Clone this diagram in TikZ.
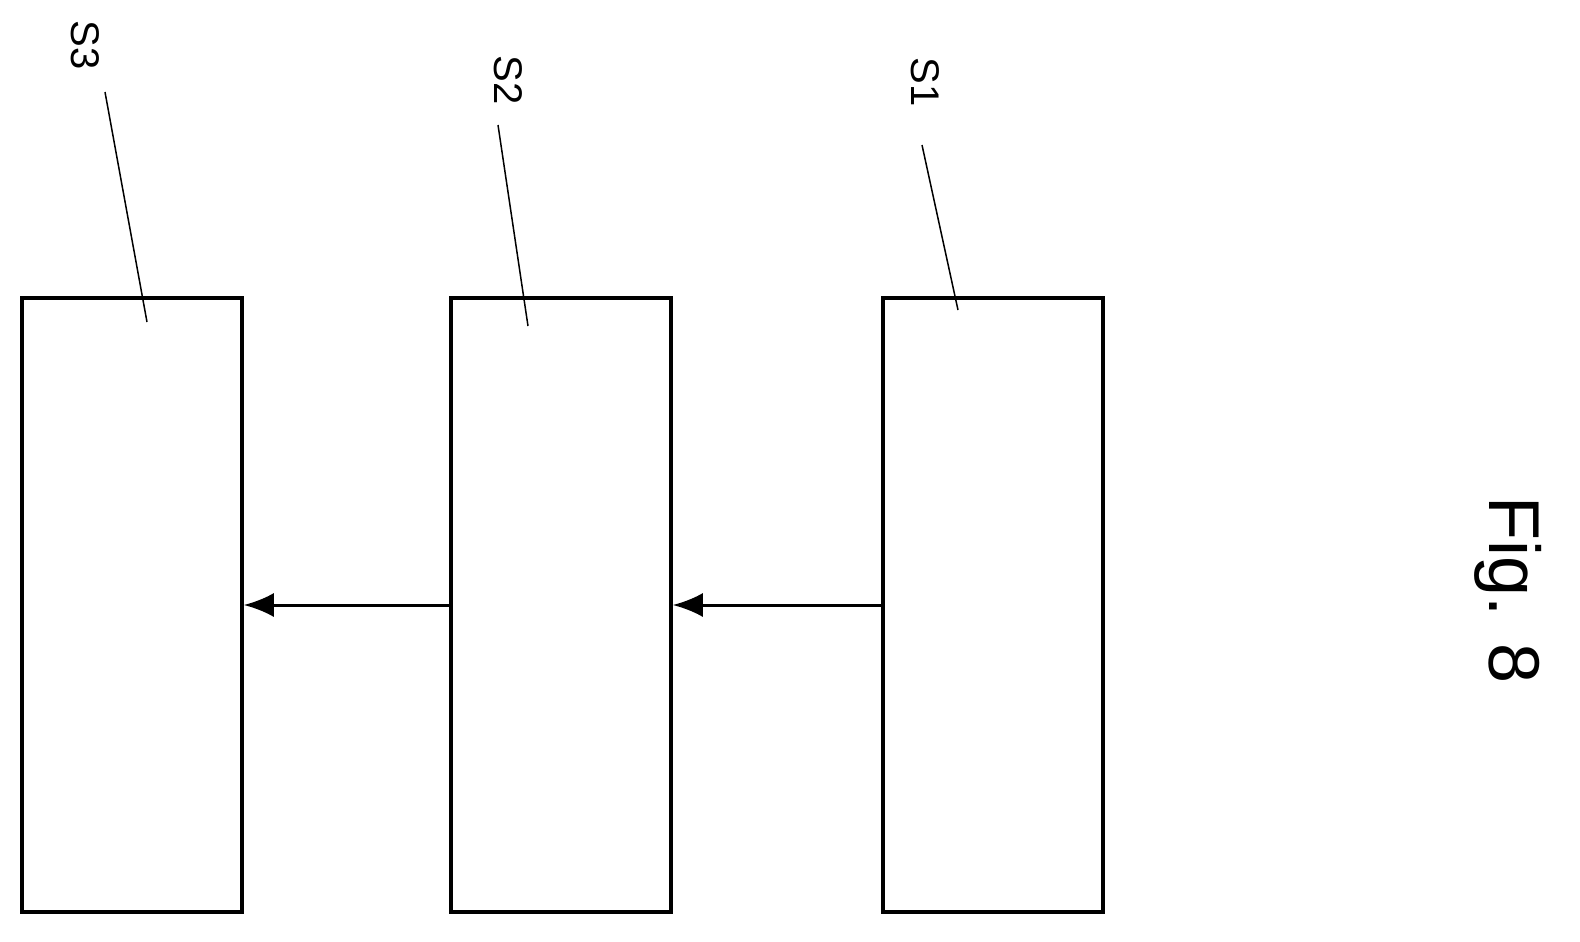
\documentclass[tikz,border=0pt]{standalone}
\usepackage{fontspec}
\setmainfont{Liberation Sans}
\usetikzlibrary{arrows.meta}

\begin{document}
\begin{tikzpicture}[x=1pt,y=-1pt,>={Latex[length=30pt,width=24pt]}]
    \tikzstyle{stage}=[draw=black,line width=3.5pt,minimum width=220pt,minimum height=614pt,inner sep=0pt]
    \tikzstyle{lbl}=[rotate=-90,font=\fontsize{40}{40}\selectfont]
    \tikzstyle{leader}=[line width=1.5pt]
    \useasboundingbox (0,0) rectangle (1580,942);
    \node[stage] (s3) at (132,605) {};
    \node[stage] (s2) at (561,605) {};
    \node[stage] (s1) at (993,605) {};
    \node[lbl] (l3) at (85,45) {S3};
    \node[lbl] (l2) at (508,80) {S2};
    \node[lbl] (l1) at (925,82) {S1};
    \coordinate (t3) at (147,322);
    \coordinate (t2) at (528,326);
    \coordinate (t1) at (958,310);
    \draw[leader] (105,92) -- (t3);
    \draw[leader] (498,125) -- (t2);
    \draw[leader] (922,145) -- (t1);
    \draw[->,line width=3pt] (s1.west) -- (s2.east);
    \draw[->,line width=3pt] (s2.west) -- (s3.east);
    \node[rotate=-90,font=\fontsize{72}{72}\selectfont] (fig) at (1508,590) {Fig. 8};
\end{tikzpicture}
\end{document}
